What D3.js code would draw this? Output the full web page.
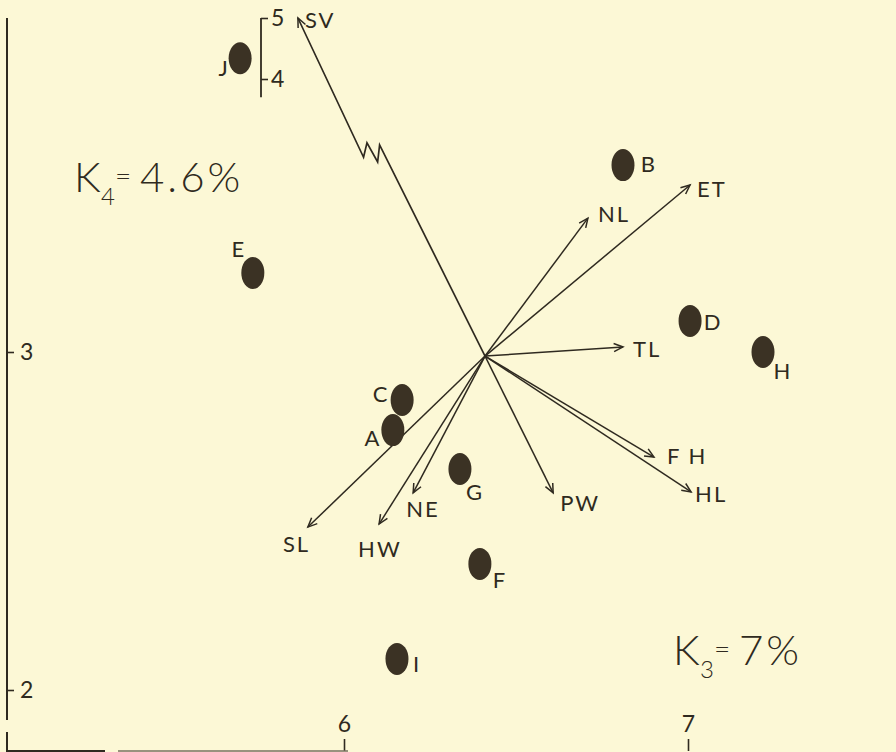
<!DOCTYPE html>
<html>
<head>
<meta charset="utf-8">
<script src="https://cdn.jsdelivr.net/npm/d3@7"></script>
<style>
  html, body { margin: 0; padding: 0; background: #fcf8d6; }
  svg { display: block; }
</style>
</head>
<body>
<svg id="chart" width="896" height="752"></svg>
<script>
// Samples (ordination scores)
const pointNames = ["A", "B", "C", "D", "E", "F", "G", "H", "I", "J"];
const pointX = [6.142, 6.811, 6.169, 7.006, 5.735, 6.395, 6.337, 7.218, 6.154, 5.698];
const pointY = [2.769, 3.553, 2.858, 3.092, 3.234, 2.373, 2.654, 3.000, 2.092, 4.340];

// Character vectors (tips), all drawn from a common origin
const vectorNames = ["SV", "NL", "ET", "TL", "FH", "HL", "PW", "NE", "HW", "SL"];
const vectorLabels = ["SV", "NL", "ET", "TL", "F H", "HL", "PW", "NE", "HW", "SL"];
const vectorX = [5.866, 6.709, 7.006, 6.811, 6.901, 7.009, 6.608, 6.201, 6.102, 5.895];
const vectorY = [5.000, 3.396, 3.494, 3.015, 2.689, 2.586, 2.583, 2.583, 2.491, 2.482];
const vectorOrigin = [6.41, 2.988];

// Axis ticks
const xTicks = [6, 7];
const yTicks = [2, 3];
const yBreakTicks = [4, 5];

// Annotations
const k4Text = { main: "K", sub: "4", rest: "4.6%" };
const k3Text = { main: "K", sub: "3", rest: "7%" };

const ink = "#2f2a20";
const dotFill = "#3b3224";
const font = "Lato, 'Liberation Sans', sans-serif";

const svg = d3.select("#chart");
svg.append("rect").attr("width", 896).attr("height", 752).attr("fill", "#fcf8d6");

const x = d3.scaleLinear().domain([6, 7]).range([344, 688]);
const y = d3.scaleLinear().domain([2, 3]).range([690, 352]);
// upper, broken section of the vertical scale
const yTop = d3.scaleLinear().domain([4, 5]).range([79, 18]);
const yPos = v => (v >= 3.9 ? yTop(v) : y(v));

// ---- axes ----
function styleAxis(g, size) {
  g.select(".domain").remove();
  g.selectAll(".tick line").attr("stroke", ink).attr("stroke-width", 1.6);
  g.selectAll(".tick text").attr("fill", ink).attr("font-family", font)
    .attr("font-size", size);
}

const leftAxis = svg.append("g").attr("transform", "translate(7,0)")
  .call(d3.axisRight(y).tickValues(yTicks).tickSize(7).tickPadding(6).tickFormat(d3.format("d")));
styleAxis(leftAxis, 23);

const bottomAxis = svg.append("g").attr("transform", "translate(0,751)")
  .call(d3.axisTop(x).tickValues(xTicks).tickSize(12).tickPadding(7).tickFormat(d3.format("d")));
styleAxis(bottomAxis, 23);

const breakAxis = svg.append("g").attr("transform", "translate(261,0)")
  .call(d3.axisRight(yTop).tickValues(yBreakTicks).tickSize(7).tickPadding(3).tickFormat(d3.format("d")));
styleAxis(breakAxis, 23);

// axis lines
const axisLines = svg.append("g").attr("stroke", ink).attr("stroke-width", 2).attr("fill", "none");
axisLines.append("line").attr("x1", 7).attr("x2", 7).attr("y1", yTop(5)).attr("y2", 720);
axisLines.append("line").attr("x1", 7).attr("x2", 7).attr("y1", 732).attr("y2", 752);
axisLines.append("line").attr("x1", 7).attr("x2", 105).attr("y1", 751).attr("y2", 751);
axisLines.append("line").attr("x1", 118).attr("x2", x(6) + 4).attr("y1", 751).attr("y2", 751)
  .attr("stroke", "#77705f").attr("stroke-width", 1.5);
axisLines.append("line").attr("x1", 261).attr("x2", 261)
  .attr("y1", yTop(5)).attr("y2", yTop(3.7)).attr("stroke-width", 1.8);

// ---- vectors ----
const O = [x(vectorOrigin[0]), y(vectorOrigin[1])];
const vecG = svg.append("g").attr("stroke", ink).attr("stroke-width", 1.5)
  .attr("fill", "none").attr("stroke-linejoin", "miter");

function arrowHead(tip, from) {
  const dx = tip[0] - from[0], dy = tip[1] - from[1];
  const len = Math.hypot(dx, dy);
  const ux = dx / len, uy = dy / len;
  const L = 10, a = 24 * Math.PI / 180;
  const rot = s => [ux * Math.cos(s * a) - uy * Math.sin(s * a),
                    ux * Math.sin(s * a) + uy * Math.cos(s * a)];
  const r1 = rot(1), r2 = rot(-1);
  return `M${tip[0] - L * r1[0]},${tip[1] - L * r1[1]}L${tip[0]},${tip[1]}L${tip[0] - L * r2[0]},${tip[1] - L * r2[1]}`;
}

const labelOffsets = {
  SV: [7, 1], NL: [10, -5], ET: [7, 3], TL: [10, 2], FH: [13, -2],
  HL: [4, 2], PW: [7, 10], NE: [-7, 16], HW: [-21, 24], SL: [-25, 16]
};

vectorNames.forEach((name, i) => {
  const T = [x(vectorX[i]), yPos(vectorY[i])];
  let pathD, from;
  if (vectorY[i] >= 3.9) {
    // long vector: shortened with a zig-zag break
    const dx = T[0] - O[0], dy = T[1] - O[1];
    const len = Math.hypot(dx, dy);
    const u = [dx / len, dy / len], n = [-u[1], u[0]];
    const t = 0.605;
    const c = [O[0] + dx * t, O[1] + dy * t];
    const p = (a, b) => [c[0] + a * u[0] + b * n[0], c[1] + a * u[1] + b * n[1]];
    const z1 = p(-1, -10), z2 = p(10, 0), z3 = p(-12, 0), z4 = p(2, 10);
    pathD = `M${T}L${z1}L${z2}L${z3}L${z4}L${O}`;
    vecG.append("path").attr("d", pathD).attr("stroke-width", 1.7);
    from = z1;
  } else {
    pathD = `M${O}L${T}`;
    vecG.append("path").attr("d", pathD);
    from = O;
  }
  vecG.append("path").attr("d", arrowHead(T, from));
  const off = labelOffsets[name];
  svg.append("text").attr("x", T[0] + off[0]).attr("y", T[1] + off[1])
    .attr("dominant-baseline", "central").attr("fill", ink)
    .attr("font-family", font).attr("font-size", 22).attr("letter-spacing", 2)
    .text(vectorLabels[i]);
});

// ---- sample points ----
const pointOffsets = {
  A: [-21, 7], B: [25, -2], C: [-22, -6], D: [22, 1], E: [-15, -24],
  F: [19, 16], G: [14, 23], H: [19, 18], I: [19, 5], J: [-17, 9]
};
pointNames.forEach((name, i) => {
  const cx = x(pointX[i]), cy = yPos(pointY[i]);
  svg.append("ellipse").attr("cx", cx).attr("cy", cy).attr("rx", 11.5).attr("ry", 16)
    .attr("fill", dotFill);
  const off = pointOffsets[name];
  svg.append("text").attr("x", cx + off[0]).attr("y", cy + off[1])
    .attr("text-anchor", "middle").attr("dominant-baseline", "central")
    .attr("fill", ink).attr("font-family", font).attr("font-size", 22)
    .text(name);
});

// ---- variance annotations ----
function kLabel(t, px, py) {
  const g = svg.append("g").attr("fill", ink).attr("font-family", font).attr("font-weight", 300);
  g.append("text").attr("x", px).attr("y", py).attr("font-size", 42).text(t.main);
  g.append("text").attr("x", px + 27).attr("y", py + 13).attr("font-size", 24).text(t.sub);
  g.append("text").attr("x", px + 41).attr("y", py - 6).attr("font-size", 28).text("=");
  g.append("text").attr("x", px + 66).attr("y", py).attr("font-size", 42)
    .attr("letter-spacing", 3).text(t.rest);
}
kLabel(k4Text, 74, 192);
kLabel(k3Text, 673, 665);
</script>
</body>
</html>
